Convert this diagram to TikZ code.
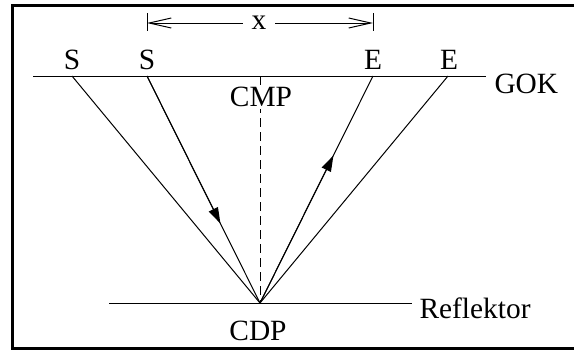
\documentclass[tikz,border=0pt]{standalone}
\usepackage{fontspec}
\setmainfont{Liberation Serif}
\usetikzlibrary{arrows.meta,positioning}

\begin{document}
\begin{tikzpicture}[
  x=0.5pt, y=-0.5pt, line width=0.5pt,
  every node/.style={font=\fontsize{14.7}{17}\selectfont, inner sep=1pt},
  lbl/.style={inner sep=0pt},
  arr/.style={-{Triangle[length=8pt,width=5pt]}},
  barb/.style={-{Straight Barb[length=11pt,width=5pt]}},
  midline/.style={dash pattern=on 4.5pt off 2.5pt}
]
\useasboundingbox (0,0) rectangle (574,349);
\clip (0,0) rectangle (574,349);
\draw[line width=1.5pt] (12.5,5.5) rectangle (580,348.5);

% surface (GOK) and reflector
\coordinate (gokl) at (33,76);
\coordinate (gokr) at (486,76);
\coordinate (s1)   at (72,76);
\coordinate (s2)   at (147,76);
\coordinate (cmp)  at (260,76);
\coordinate (e1)   at (373,76);
\coordinate (e2)   at (448,76);
\coordinate (cdp)  at (260,303);
\coordinate (refl) at (109,303);
\coordinate (refr) at (412,303);

\draw (gokl) -- (gokr);
\draw (refl) -- (refr);

\node[lbl] (ls1) at (72,60)  {S};
\node[lbl] (ls2) at (147,60) {S};
\node[lbl] (le1) at (373,60) {E};
\node[lbl] (le2) at (449,60) {E};
\node[lbl, anchor=west] (lgok)  at (494,84)  {GOK};
\node[lbl, anchor=west] (lrefl) at (419,308) {Reflektor};
\node[lbl] (lcdp) at (258,331) {CDP};

% midpoint line
\draw[midline] (cmp) -- (cdp);
\node[fill=white] (lcmp) at (261,97) {CMP};

% rays
\draw (s1) -- (cdp);
\draw (cdp) -- (e2);
\draw (s2) -- coordinate[pos=.65] (m1) (cdp);
\draw[arr] (s2) -- (m1);
\draw (cdp) -- coordinate[pos=.65] (m2) (e1);
\draw[arr] (cdp) -- (m2);

% offset x
\coordinate (xl) at (147,23);
\coordinate (xr) at (373,23);
\draw ([yshift=5pt]xl) -- ([yshift=-4pt]xl);
\draw ([yshift=5pt]xr) -- ([yshift=-4pt]xr);
\node[fill=white, inner xsep=4.3pt, inner ysep=0pt] (lx) at (259,23) {x};
\draw[barb] (lx) -- (xl);
\draw[barb] (lx) -- (xr);
\end{tikzpicture}
\end{document}
